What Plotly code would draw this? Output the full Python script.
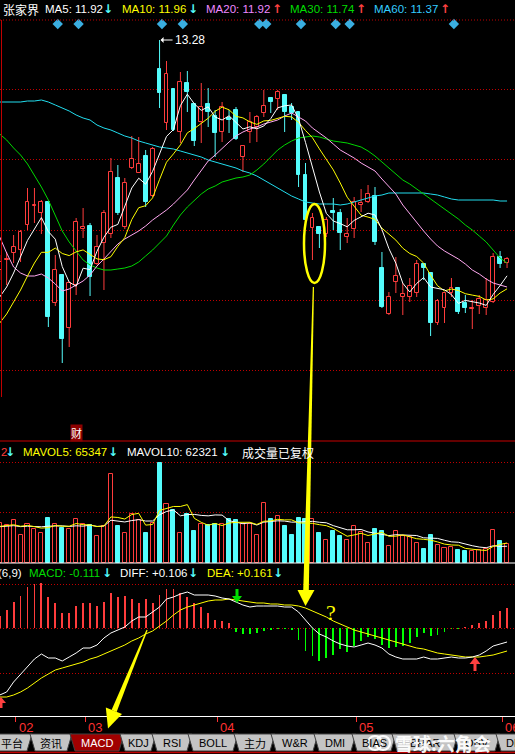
import plotly.graph_objects as go

W, H = 515, 754

# ---------------- data ----------------
idx = list(range(74))
open_ = [10.98, 11.08, 11.15, 11.18, 11.43, 11.62, 11.55, 11.66, 10.65, 10.93,
         10.40, 10.83, 11.39, 11.42, 11.04, 11.25, 11.34, 11.90, 11.41, 12.00,
         11.95, 12.12, 11.72, 12.99, 12.45, 12.79, 12.36, 12.85, 12.64, 12.46,
         12.64, 12.52, 12.36, 12.50, 12.58, 12.11, 12.36, 12.41, 12.55, 12.70,
         12.69, 12.73, 12.61, 12.56, 11.93, 11.40, 11.41, 11.34, 11.57, 11.55,
         11.31, 11.39, 11.63, 11.66, 11.72, 11.00, 10.54, 10.86, 10.71, 10.71,
         10.75, 11.04, 10.95, 10.45, 10.60, 10.75, 10.80, 10.65, 10.59, 10.62,
         10.60, 10.66, 11.11, 11.05]
high = [11.13, 11.16, 11.33, 11.38, 11.80, 11.80, 11.68, 11.66, 11.13, 10.93,
        10.86, 11.50, 11.60, 11.45, 11.33, 11.58, 12.10, 12.03, 11.90, 12.32,
        12.31, 12.18, 12.21, 13.28, 13.07, 12.79, 12.96, 12.97, 12.65, 12.85,
        12.80, 12.58, 12.66, 12.58, 12.61, 12.22, 12.56, 12.53, 12.78, 12.70,
        12.78, 12.73, 12.65, 12.56, 12.05, 11.55, 11.41, 11.51, 11.70, 11.59,
        11.50, 11.71, 11.79, 11.83, 11.81, 11.16, 10.76, 11.11, 10.85, 10.90,
        11.08, 11.05, 10.95, 10.69, 10.76, 10.90, 10.80, 10.73, 10.68, 10.73,
        10.90, 11.15, 11.17, 11.11]
low = [10.88, 10.83, 11.05, 11.06, 11.38, 11.45, 11.34, 10.41, 10.62, 10.05,
       10.21, 10.73, 11.30, 10.72, 11.03, 10.78, 11.30, 11.53, 11.39, 11.99,
       11.95, 11.61, 11.71, 12.60, 12.38, 12.37, 12.25, 12.56, 12.22, 12.25,
       12.41, 12.11, 12.26, 12.35, 12.28, 11.96, 12.25, 12.26, 12.51, 12.55,
       12.58, 12.36, 12.48, 11.81, 11.46, 11.08, 11.20, 11.31, 11.38, 11.18,
       11.25, 11.30, 11.56, 11.65, 11.23, 10.60, 10.53, 10.75, 10.53, 10.66,
       10.71, 10.88, 10.32, 10.43, 10.45, 10.71, 10.54, 10.55, 10.39, 10.54,
       10.53, 10.65, 11.00, 11.00]
close = [11.06, 11.09, 11.21, 11.36, 11.66, 11.63, 11.66, 10.51, 10.98, 10.29,
         10.85, 11.46, 11.41, 10.91, 11.21, 11.55, 11.96, 11.55, 11.85, 12.09,
         12.04, 11.66, 12.19, 12.75, 12.94, 12.38, 12.86, 12.76, 12.27, 12.61,
         12.56, 12.35, 12.61, 12.48, 12.29, 12.22, 12.46, 12.51, 12.62, 12.66,
         12.76, 12.56, 12.55, 11.93, 11.48, 11.50, 11.34, 11.48, 11.55, 11.35,
         11.34, 11.66, 11.65, 11.74, 11.26, 10.61, 10.71, 10.92, 10.74, 10.82,
         11.04, 11.00, 10.45, 10.67, 10.75, 10.80, 10.56, 10.60, 10.60, 10.69,
         10.68, 11.11, 11.04, 11.09]
pre_close = [10.19, 10.01, 10.16, 10.26, 10.33, 10.59, 10.51, 10.56, 10.83]

ma20 = [11.31, 11.15, 11.01, 10.95, 10.92, 10.92, 10.94, 10.90, 10.84, 10.77,
        10.79, 10.83, 10.87, 10.93, 11.02, 11.09, 11.17, 11.24, 11.29, 11.33,
        11.37, 11.42, 11.48, 11.53, 11.58, 11.64, 11.71, 11.78, 11.88, 11.98,
        12.07, 12.13, 12.20, 12.26, 12.32, 12.36, 12.39, 12.41, 12.44, 12.46,
        12.48, 12.52, 12.55, 12.51, 12.47, 12.40, 12.35, 12.30, 12.24, 12.18,
        12.14, 12.10, 12.05, 12.01, 11.97, 11.89, 11.82, 11.74, 11.63, 11.54,
        11.45, 11.37, 11.29, 11.22, 11.17, 11.13, 11.09, 11.04, 10.98, 10.94,
        10.89, 10.85, 10.83, 10.81]
ma30 = [12.34, 12.28, 12.20, 12.13, 12.04, 11.93, 11.81, 11.68, 11.52, 11.37,
        11.26, 11.17, 11.08, 11.03, 11.00, 10.98, 10.98, 10.99, 11.00, 11.02,
        11.06, 11.12, 11.18, 11.25, 11.32, 11.43, 11.53, 11.61, 11.68, 11.74,
        11.79, 11.82, 11.86, 11.88, 11.90, 11.91, 11.93, 11.98, 12.04, 12.11,
        12.18, 12.23, 12.27, 12.30, 12.31, 12.32, 12.31, 12.29, 12.27, 12.26,
        12.25, 12.23, 12.21, 12.17, 12.12, 12.06, 12.00, 11.94, 11.88, 11.84,
        11.79, 11.74, 11.69, 11.64, 11.59, 11.54, 11.49, 11.43, 11.38, 11.32,
        11.26, 11.18, 11.10, 11.05]
ma60 = [12.66, 12.66, 12.66, 12.66, 12.67, 12.67, 12.68, 12.66, 12.63, 12.60,
        12.57, 12.53, 12.50, 12.48, 12.43, 12.40, 12.38, 12.35, 12.32, 12.30,
        12.27, 12.25, 12.23, 12.21, 12.20, 12.19, 12.17, 12.15, 12.13, 12.11,
        12.08, 12.06, 12.04, 12.02, 12.00, 11.97, 11.95, 11.92, 11.88, 11.84,
        11.80, 11.76, 11.72, 11.69, 11.66, 11.65, 11.64, 11.64, 11.64, 11.63,
        11.64, 11.66, 11.68, 11.70, 11.72, 11.73, 11.75, 11.75, 11.75, 11.75,
        11.75, 11.75, 11.74, 11.73, 11.71, 11.69, 11.68, 11.68, 11.68, 11.68,
        11.68, 11.68, 11.67, 11.67]

volume = [144000, 135700, 153700, 101900, 141500, 121300, 109100, 163100, 141500, 126000,
          121300, 159500, 141500, 137900, 96100, 132100, 321500, 132100, 109100, 177500,
          153700, 109100, 144000, 361100, 213500, 189700, 109100, 177500, 114100, 141500,
          137900, 141500, 139300, 159500, 153700, 139300, 141500, 99700, 217100, 159500,
          168100, 132100, 99700, 163100, 159500, 159500, 108000, 81700, 114100, 96100,
          81700, 132100, 111600, 73100, 121300, 114100, 60100, 114100, 96100, 93600,
          73100, 49300, 99700, 63700, 54000, 57600, 45700, 42100, 43200, 45700,
          49300, 117700, 78100, 69500]
pre_volume = [129600, 122400, 136800, 126000, 133200, 118800, 140400, 129600, 126000]

diff = [-0.335, -0.320, -0.270, -0.230, -0.190, -0.155, -0.130, -0.150, -0.150, -0.165,
        -0.145, -0.125, -0.100, -0.100, -0.085, -0.050, -0.025, -0.010, 0.005, 0.035,
        0.055, 0.055, 0.080, 0.105, 0.145, 0.155, 0.170, 0.180, 0.165, 0.165,
        0.165, 0.160, 0.150, 0.145, 0.130, 0.115, 0.105, 0.110, 0.110, 0.110,
        0.110, 0.105, 0.105, 0.080, 0.040, 0.000, -0.030, -0.045, -0.065, -0.080,
        -0.090, -0.095, -0.085, -0.075, -0.085, -0.100, -0.130, -0.145, -0.155, -0.155,
        -0.155, -0.145, -0.155, -0.155, -0.150, -0.145, -0.150, -0.150, -0.145, -0.135,
        -0.115, -0.090, -0.080, -0.070]
dea = [-0.345, -0.345, -0.335, -0.320, -0.300, -0.275, -0.250, -0.230, -0.210, -0.200,
       -0.190, -0.180, -0.170, -0.155, -0.145, -0.130, -0.115, -0.100, -0.085, -0.065,
       -0.050, -0.030, -0.015, 0.010, 0.035, 0.065, 0.090, 0.105, 0.115, 0.125,
       0.135, 0.140, 0.140, 0.145, 0.140, 0.135, 0.130, 0.125, 0.125, 0.120,
       0.120, 0.115, 0.115, 0.110, 0.100, 0.085, 0.070, 0.055, 0.035, 0.020,
       0.005, -0.010, -0.020, -0.030, -0.040, -0.050, -0.060, -0.070, -0.080, -0.090,
       -0.100, -0.105, -0.115, -0.125, -0.130, -0.135, -0.140, -0.145, -0.145, -0.145,
       -0.140, -0.135, -0.125, -0.115]
macd_hist = [0.060, 0.090, 0.130, 0.160, 0.205, 0.220, 0.225, 0.155, 0.125, 0.075,
             0.075, 0.110, 0.125, 0.125, 0.110, 0.130, 0.175, 0.155, 0.160, 0.145,
             0.125, 0.145, 0.125, 0.165, 0.195, 0.195, 0.175, 0.155, 0.125, 0.105,
             0.075, 0.040, 0.035, 0.025, -0.020, -0.030, -0.030, -0.025, -0.015, -0.010,
             -0.005, -0.005, -0.010, -0.060, -0.115, -0.140, -0.165, -0.150, -0.135, -0.105,
             -0.120, -0.090, -0.065, -0.045, -0.055, -0.085, -0.100, -0.095, -0.090, -0.075,
             -0.045, -0.025, -0.040, -0.035, -0.020, -0.005, -0.005, 0.005, 0.015, 0.025,
             0.035, 0.065, 0.085, 0.100]

info_marks = [8, 11, 23, 26, 37, 38, 43, 48, 50, 65]
month_idx = [2, 12, 31, 51, 72]
month_labels = ["02", "03", "04", "05", "06"]
tab_labels = ["平台", "资讯", "MACD", "KDJ", "RSI", "BOLL", "主力", "W&R", "DMI", "BIAS", "BRAR", "OBV", "DMA"]

# ---------------- helpers ----------------
RED = "#FF3C3C"
CYAN = "#54FCFC"
GRID = "#C00000"
FONT = "Liberation Sans, Arial, Noto Sans CJK SC"
CJK = "Noto Sans CJK SC"
HS = 11.5  # header font size


def X(px):
    return px / W


def Y(py):
    return 1 - py / H


def P(py):  # pixel row -> price on the price axis
    return 13.68 - 0.01 * py


def mavg(pre, vals, n):
    ext = list(pre) + list(vals)
    off = len(pre)
    return [sum(ext[off + i - n + 1: off + i + 1]) / n for i in range(len(vals))]


ma5 = mavg(pre_close, close, 5)
ma10 = mavg(pre_close, close, 10)
mavol5 = mavg(pre_volume, volume, 5)
mavol10 = mavg(pre_volume, volume, 10)

up = [c >= o for o, c in zip(open_, close)]

fig = go.Figure()

# ---------------- candles ----------------
for is_up in (True, False):
    xs = [i for i in idx if up[i] == is_up]
    base = [min(open_[i], close[i]) for i in xs]
    hgt = [max(abs(close[i] - open_[i]), 0.004) for i in xs]
    col = RED if is_up else CYAN
    wx, wy = [], []
    for i in xs:
        top = max(open_[i], close[i])
        bot = min(open_[i], close[i])
        wx += [i, i, None, i, i, None]
        wy += [high[i], top, None, bot, low[i], None]
    fig.add_trace(go.Scatter(x=wx, y=wy, mode="lines", line=dict(color=col, width=1),
                             xaxis="x", yaxis="y", hoverinfo="skip"))
    fig.add_trace(go.Bar(x=xs, y=hgt, base=base, width=0.55,
                         marker=dict(color="#000000" if is_up else col, line=dict(color=col, width=1)),
                         xaxis="x", yaxis="y", hoverinfo="skip"))

for vals, col in ((ma60, "#22DDEE"), (ma30, "#00D800"), (ma20, "#FFA8F0"), (ma10, "#FFFF00"), (ma5, "#FFFFFF")):
    fig.add_trace(go.Scatter(x=idx, y=vals, mode="lines", line=dict(color=col, width=1),
                             xaxis="x", yaxis="y", hoverinfo="skip"))

fig.add_trace(go.Scatter(x=[i + 0.35 for i in info_marks], y=[P(24)] * len(info_marks), mode="markers",
                         marker=dict(symbol="diamond", size=8, color="#3AAEE0"),
                         xaxis="x", yaxis="y", hoverinfo="skip", cliponaxis=False))

# ---------------- volume ----------------
for is_up in (True, False):
    xs = [i for i in idx if up[i] == is_up]
    col = RED if is_up else CYAN
    fig.add_trace(go.Bar(x=xs, y=[volume[i] for i in xs], width=0.58,
                         marker=dict(color="#000000" if is_up else col, line=dict(color=col, width=1)),
                         xaxis="x", yaxis="y2", hoverinfo="skip"))
fig.add_trace(go.Scatter(x=idx, y=mavol10, mode="lines", line=dict(color="#FFFFFF", width=1),
                         xaxis="x", yaxis="y2", hoverinfo="skip"))
fig.add_trace(go.Scatter(x=idx, y=mavol5, mode="lines", line=dict(color="#FFFF00", width=1),
                         xaxis="x", yaxis="y2", hoverinfo="skip"))

# ---------------- MACD ----------------
fig.add_trace(go.Bar(x=idx, y=macd_hist, width=0.13,
                     marker=dict(color=[RED if v >= 0 else "#00FF00" for v in macd_hist], line=dict(width=0)),
                     xaxis="x", yaxis="y3", hoverinfo="skip"))
fig.add_trace(go.Scatter(x=idx, y=dea, mode="lines", line=dict(color="#FFFF00", width=1),
                         xaxis="x", yaxis="y3", hoverinfo="skip"))
fig.add_trace(go.Scatter(x=idx, y=diff, mode="lines", line=dict(color="#FFFFFF", width=1),
                         xaxis="x", yaxis="y3", hoverinfo="skip"))

# ---------------- decorations ----------------
shapes = []
anns = []


def hline(py, color, width=1, dash=None, x0=0, x1=W):
    shapes.append(dict(type="line", xref="paper", yref="paper", x0=X(x0), x1=X(x1), y0=Y(py), y1=Y(py),
                       line=dict(color=color, width=width, dash=dash)))


def vline(px, y0, y1, color, width=1):
    shapes.append(dict(type="line", xref="paper", yref="paper", x0=X(px), x1=X(px), y0=Y(y0), y1=Y(y1),
                       line=dict(color=color, width=width)))


def poly(points, color, line=None):
    path = "M " + " L ".join(f"{X(x):.5f},{Y(y):.5f}" for x, y in points) + " Z"
    shapes.append(dict(type="path", xref="paper", yref="paper", path=path, fillcolor=color,
                       line=line if line else dict(width=0)))


def txt(px, py, s, color, size=12, anchor="left", family=FONT, **kw):
    anns.append(dict(x=X(px), y=Y(py), xref="paper", yref="paper", text=s, showarrow=False,
                     xanchor=anchor, yanchor="middle", font=dict(color=color, size=size, family=family), **kw))


hline(20, GRID, 1, "1px,2px")
vline(1.5, 20, 397, "#C00000", 1)
hline(441, "#C80000", 1.2)
hline(563, "#FFFFFF", 1.2)

txt(1, 9, "张家界", "#FFFFFF", 12, family=CJK)
arrow_font = "DejaVu Sans"
hdr = [(43, "MA5: 11.92", "#FFFFFF", 108, "↓", CYAN),
       (120, "MA10: 11.96", "#FFFF00", 193, "↓", CYAN),
       (204, "MA20: 11.92", "#EE88FF", 277, "↑", "#FF4040"),
       (288, "MA30: 11.74", "#00DD00", 361, "↑", "#FF4040"),
       (372, "MA60: 11.37", "#33CCFF", 445, "↑", "#FF4040")]
for x0, s, c, ax, a, ac in hdr:
    txt(x0, 9, s, c, HS)
    txt(ax, 9, f"<b>{a}</b>", ac, 12, anchor="center", family=arrow_font)

anns.append(dict(x=23, y=high[23], xref="x", yref="y", text="13.28", showarrow=True, ax=13, ay=0,
                 xanchor="left", yanchor="middle", arrowcolor="#FFFFFF", arrowwidth=1, arrowhead=1,
                 arrowsize=1, standoff=1, font=dict(color="#FFFFFF", size=12, family=FONT)))

txt(76, 433, "财", "#FFFFFF", 11, anchor="center", family=CJK, bgcolor="#8C0000", borderpad=0)

txt(-1, 452, "2", RED, HS)
txt(10, 452, "<b>↓</b>", CYAN, 12, anchor="center", family=arrow_font)
txt(21, 452, "MAVOL5: 65347", "#FFFF00", HS)
txt(113, 452, "<b>↓</b>", CYAN, 12, anchor="center", family=arrow_font)
txt(125, 452, "MAVOL10: 62321", "#FFFFFF", HS)
txt(225, 452, "<b>↓</b>", CYAN, 12, anchor="center", family=arrow_font)
txt(240, 452, "成交量已复权", "#FFFFFF", 12, family=CJK)

txt(-4, 573, "(6,9)", "#FFFFFF", HS)
txt(27, 573, "MACD: -0.111", "#00DD00", HS)
txt(107, 573, "<b>↓</b>", CYAN, 12, anchor="center", family=arrow_font)
txt(118, 573, "DIFF: +0.106", "#FFFFFF", HS)
txt(193, 573, "<b>↓</b>", CYAN, 12, anchor="center", family=arrow_font)
txt(205, 573, "DEA: +0.161", "#FFFF00", HS)
txt(278, 573, "<b>↓</b>", CYAN, 12, anchor="center", family=arrow_font)

for mi, lab in zip(month_idx, month_labels):
    anns.append(dict(x=mi + 0.3, y=Y(727), xref="x", yref="paper", text=lab, showarrow=False,
                     xanchor="left", yanchor="middle", xshift=1,
                     font=dict(color="#FF3030", size=13, family=FONT)))

poly([(235.5, 589), (238.5, 589), (238.5, 596), (242, 596), (237, 603), (232, 596), (235.5, 596)], "#00DD00")
poly([(475, 657), (480.5, 664), (476.5, 664), (476.5, 671), (473.5, 671), (473.5, 664), (469.5, 664)], "#FF4040")
poly([(1, 697), (6, 703), (2.5, 703), (2.5, 708), (-0.5, 708), (-0.5, 703), (-4, 703)], "#FF4040")

YEL = "#FFFF00"
shapes.append(dict(type="circle", xref="paper", yref="paper", x0=X(304), x1=X(325), y0=Y(283), y1=Y(204),
                   line=dict(color=YEL, width=2.5)))
poly([(312.8, 287), (314.0, 287), (308.8, 591), (303.2, 591)], YEL)
poly([(297.5, 590), (314.5, 590), (305.5, 606)], YEL)
poly([(146.5, 629.8), (147.6, 630.2), (116.6, 712.0), (111.6, 710.0)], YEL)
poly([(105.8, 707.5), (122.0, 714.0), (108.0, 728.5)], YEL)
txt(331, 612, "?", YEL, 22, anchor="center", family="Liberation Serif")

tabs_x = [(-8, 32), (30, 72), (70, 124), (120, 156), (152, 192), (188, 238), (234, 275),
          (271, 318), (314, 356), (352, 396), (392, 458), (454, 500), (496, 540)]
for (xl, xr), lab in zip(tabs_x, tab_labels):
    active = lab == "MACD"
    fill = "#A00000" if active else "#C4C4C4"
    poly([(xl, 734), (xr, 734), (xr - 5, 751), (xl + 5, 751)], fill, dict(color="#404040", width=1))
    txt((xl + xr) / 2, 743, lab, "#FFFFFF" if active else "#000000", 11, anchor="center",
        family=CJK if not lab.isascii() else FONT)
hline(752.5, "#C00000", 1.5)

for cx in (375, 383):
    shapes.append(dict(type="circle", xref="paper", yref="paper", x0=X(cx - 7), x1=X(cx + 7),
                       y0=Y(750), y1=Y(736), line=dict(color="rgba(255,255,255,0.95)", width=2.2)))
txt(393, 743, "<b>雪球:六角会</b>", "rgba(255,255,255,0.95)", 18, family=CJK)

fig.update_layout(
    width=W, height=H, margin=dict(l=0, r=0, t=0, b=0),
    paper_bgcolor="#000000", plot_bgcolor="#000000",
    showlegend=False, barmode="overlay", bargap=0,
    shapes=shapes, annotations=anns,
    xaxis=dict(domain=[0, 1], range=[0.3 / 6.95, 515.3 / 6.95], anchor="y3",
               showgrid=False, zeroline=False, showticklabels=False,
               ticks="outside", ticklen=5, tickcolor="#FF3030", tickwidth=1,
               tickvals=[m + 0.3 for m in month_idx],
               showline=True, linecolor="#FFFFFF", linewidth=1.2, fixedrange=True),
    yaxis=dict(domain=[Y(441), Y(20)], range=[P(441), P(20)],
               tickvals=[P(89), P(159), P(230), P(300), P(370)],
               showgrid=True, gridcolor=GRID, griddash="1px,2px", gridwidth=1,
               showticklabels=False, zeroline=False, ticks="", fixedrange=True),
    yaxis2=dict(domain=[Y(563), Y(441)], range=[0, 122 * 3600],
                tickvals=[51 * 3600, 101 * 3600],
                showgrid=True, gridcolor=GRID, griddash="1px,2px", gridwidth=1,
                showticklabels=False, zeroline=False, ticks="", fixedrange=True),
    yaxis3=dict(domain=[Y(716), Y(563)], range=[(628 - 716) / 200, (628 - 563) / 200],
                tickvals=[0.22, 0.0, -0.225],
                showgrid=True, gridcolor=GRID, griddash="1px,2px", gridwidth=1,
                showticklabels=False, zeroline=False, ticks="", fixedrange=True),
)

fig.write_html("out.html", config={"displayModeBar": False},
               post_script="document.body.style.margin='0';document.body.style.overflow='hidden';"
                           "document.body.style.background='#000';")
